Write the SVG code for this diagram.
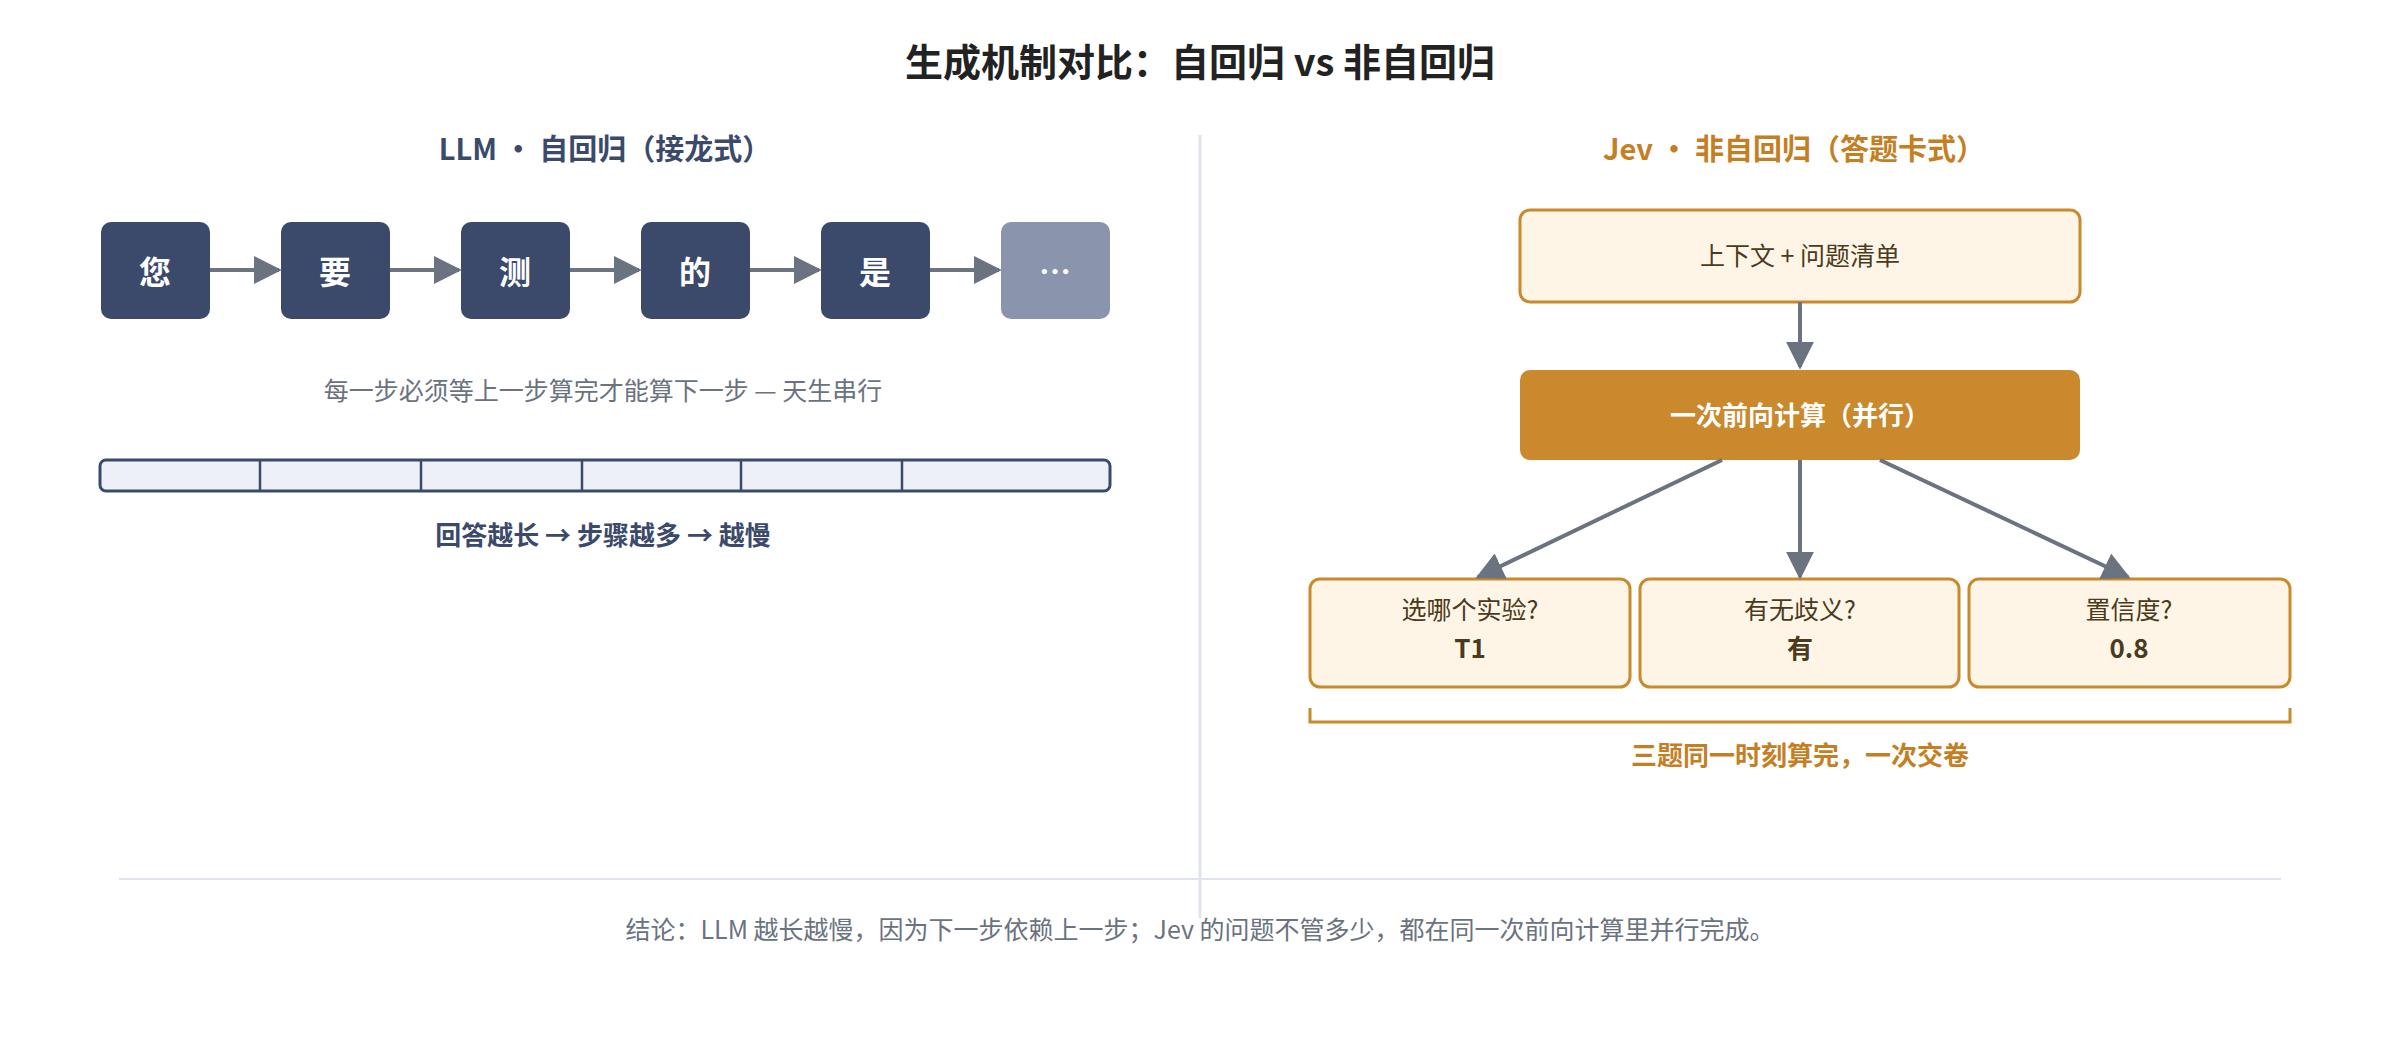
<svg xmlns="http://www.w3.org/2000/svg" width="2400" height="1040" viewBox="0 0 2400 1040">
<style>
text{font-family:"Noto Sans CJK SC","Noto Sans",sans-serif}
.tok{fill:#3b4a6b;rx:10}
.tt{fill:#fff;font-size:32px;font-weight:bold;text-anchor:middle;dominant-baseline:central}
.cap{fill:#6b7280;font-size:25px;text-anchor:middle}
.ob{fill:#fff5e6;stroke:#c98a2c;stroke-width:3}
.ot{fill:#4a3a20;font-size:25px;text-anchor:middle}
.ov{fill:#4a3a20;font-size:26px;font-weight:bold;text-anchor:middle}
.cn{stroke:#6b7280;stroke-width:4;fill:none}
</style>
<defs><marker id="ah" viewBox="0 0 10 10" refX="9" refY="5" markerWidth="6" markerHeight="6" markerUnits="userSpaceOnUse" orient="auto"><path d="M0,0L10,5L0,10z" fill="#6b7280"/></marker>
<marker id="a2" viewBox="0 0 10 10" refX="9" refY="5" markerWidth="7" markerHeight="7" orient="auto"><path d="M0,0L10,5L0,10z" fill="#6b7280"/></marker></defs>
<rect width="2400" height="1040" fill="#fff"/>
<text x="1200" y="76" font-size="38" font-weight="bold" fill="#222" text-anchor="middle">生成机制对比：自回归 vs 非自回归</text>
<line x1="1200" y1="135" x2="1200" y2="918" stroke="#e0e4ee" stroke-width="3"/>
<text x="605" y="160" font-size="29" font-weight="bold" fill="#3b4a6b" text-anchor="middle">LLM · 自回归（接龙式）</text>
<g id="t1"><rect class="tok" x="101" y="222" width="109" height="97"/><text class="tt" x="155" y="270">您</text></g>
<g id="t2"><rect class="tok" x="281" y="222" width="109" height="97"/><text class="tt" x="335" y="270">要</text></g>
<g id="t3"><rect class="tok" x="461" y="222" width="109" height="97"/><text class="tt" x="515" y="270">测</text></g>
<g id="t4"><rect class="tok" x="641" y="222" width="109" height="97"/><text class="tt" x="695" y="270">的</text></g>
<g id="t5"><rect class="tok" x="821" y="222" width="109" height="97"/><text class="tt" x="875" y="270">是</text></g>
<g id="t6"><rect class="tok" x="1001" y="222" width="109" height="97" style="fill:#8a94ad"/><text class="tt" x="1055" y="270">…</text></g>
<text class="cap" x="603" y="400">每一步必须等上一步算完才能算下一步 — 天生串行</text>
<g id="bar"><rect x="100" y="460" width="1010" height="31" rx="6" fill="#edf1f7" stroke="#3b4a6b" stroke-width="3"/>
<path d="M260,460V491M421,460V491M582,460V491M741,460V491M902,460V491" stroke="#3b4a6b" stroke-width="2.5"/></g>
<text x="603" y="545" font-size="26" font-weight="bold" fill="#3b4a6b" text-anchor="middle">回答越长 → 步骤越多 → 越慢</text>
<text x="1794" y="160" font-size="29" font-weight="bold" fill="#c47f24" text-anchor="middle">Jev · 非自回归（答题卡式）</text>
<g id="ctx"><rect class="ob" x="1520" y="210" width="560" height="92" rx="10"/><text class="ot" x="1800" y="265">上下文 + 问题清单</text></g>
<g id="fwd"><rect x="1520" y="370" width="560" height="90" rx="10" fill="#c9892c"/><text x="1800" y="425" font-size="26" font-weight="bold" fill="#fff" text-anchor="middle">一次前向计算（并行）</text></g>
<g id="q1"><rect class="ob" x="1310" y="579" width="320" height="108" rx="10"/><text class="ot" x="1470" y="619">选哪个实验?</text><text class="ov" x="1470" y="658">T1</text></g>
<g id="q2"><rect class="ob" x="1640" y="579" width="319" height="108" rx="10"/><text class="ot" x="1800" y="619">有无歧义?</text><text class="ov" x="1800" y="658">有</text></g>
<g id="q3"><rect class="ob" x="1969" y="579" width="321" height="108" rx="10"/><text class="ot" x="2129" y="619">置信度?</text><text class="ov" x="2129" y="658">0.8</text></g>
<g id="connectors">
<line class="cn" x1="210" y1="270" x2="279" y2="270" marker-end="url(#a2)"/>
<line class="cn" x1="390" y1="270" x2="459" y2="270" marker-end="url(#a2)"/>
<line class="cn" x1="570" y1="270" x2="639" y2="270" marker-end="url(#a2)"/>
<line class="cn" x1="750" y1="270" x2="819" y2="270" marker-end="url(#a2)"/>
<line class="cn" x1="930" y1="270" x2="999" y2="270" marker-end="url(#a2)"/>
<line class="cn" x1="1800" y1="302" x2="1800" y2="367" marker-end="url(#a2)"/>
<line class="cn" x1="1722" y1="460" x2="1478" y2="577" marker-end="url(#a2)"/>
<line class="cn" x1="1800" y1="460" x2="1800" y2="577" marker-end="url(#a2)"/>
<line class="cn" x1="1880" y1="460" x2="2128" y2="577" marker-end="url(#a2)"/>
</g>
<path d="M1310,708V722H2290V708" fill="none" stroke="#c98a2c" stroke-width="3"/>
<text x="1800" y="765" font-size="26" font-weight="bold" fill="#c47f24" text-anchor="middle">三题同一时刻算完，一次交卷</text>
<line x1="119" y1="879" x2="2281" y2="879" stroke="#e0e4ee" stroke-width="2"/>
<text class="cap" x="1200" y="939">结论：LLM 越长越慢，因为下一步依赖上一步；Jev 的问题不管多少，都在同一次前向计算里并行完成。</text>
</svg>
